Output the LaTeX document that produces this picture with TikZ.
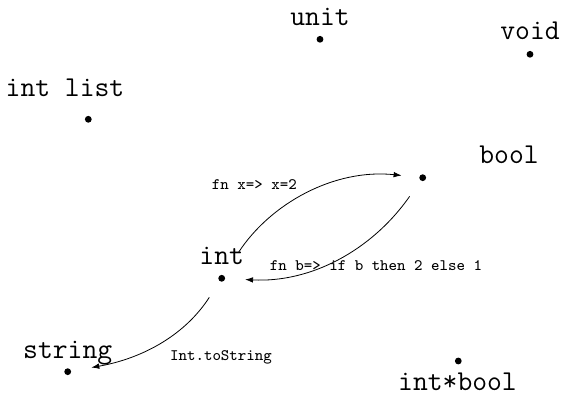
\documentclass[tikz,border=0pt]{standalone}
\usetikzlibrary{arrows.meta}
\begin{document}
\begin{tikzpicture}[x=0.5pt,y=-0.5pt,
  typedot/.style={circle,fill=black,inner sep=0pt,outer sep=0pt,minimum size=3.4pt},
  typename/.style={anchor=base,inner sep=0pt,font=\ttfamily\Large},
  fnname/.style={anchor=base,inner sep=0pt,font=\ttfamily\footnotesize},
  fnarrow/.style={-{Latex[length=4pt,width=2.8pt]}}]
\useasboundingbox (0,0) rectangle (563,395);

% points of the type universe
\node[typedot] (unit)    at (320,39.3)  {};
\node[typedot] (void)    at (530,54.3)  {};
\node[typedot] (intlist) at (88.3,119.3) {};
\node[typedot] (bool)    at (422.7,177.7) {};
\node[typedot] (int)     at (221.7,278.3) {};
\node[typedot] (string)  at (67.7,371.7) {};
\node[typedot] (pair)    at (458.3,361) {};

% type names
\node[typename] (unitL)    at (320,26)      {unit};
\node[typename] (voidL)    at (530,40)      {void};
\node[typename] (intlistL) at (65,96.7)     {int list};
\node[typename] (boolL)    at (509,164)     {bool};
\node[typename] (intL)     at (221.7,265)   {int};
\node[typename] (stringL)  at (67.7,358.3)  {string};
\node[typename] (pairL)    at (457.5,390.5) {int*bool};

% functions between types
\draw[fnarrow,shorten <=13.6pt,shorten >=8.9pt]
  (int) to[out=57,in=174] (bool);
\draw[fnarrow,shorten <=9.7pt,shorten >=10pt]
  (bool) to[out=235,in=-3] (int);
\draw[fnarrow,shorten <=9.7pt,shorten >=10.3pt]
  (int) to[out=237,in=10] (string);

\node[fnname] (f1) at (254.3,189.3) {fn x=> x=2};
\node[fnname] (f2) at (376,270.7)   {fn b=> if b then 2 else 1};
\node[fnname] (f3) at (221,360.7)   {Int.toString};
\end{tikzpicture}
\end{document}
